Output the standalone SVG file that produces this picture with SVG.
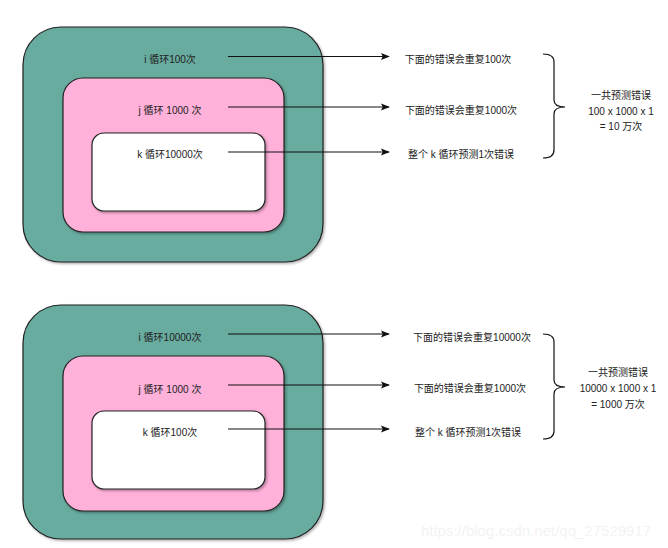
<svg xmlns="http://www.w3.org/2000/svg" width="668" height="548" viewBox="0 0 668 548">
<style>
.t{font-family:"Liberation Sans","Noto Sans CJK SC",sans-serif;font-size:10px;fill:#222;text-anchor:middle;dominant-baseline:central}
.outer{fill:#67AB9F;stroke:#222;stroke-width:1.2}
.mid{fill:#FFB1D9;stroke:#222;stroke-width:1.2}
.inner{fill:#fff;stroke:#222;stroke-width:1.2}
.c{stroke:#111;stroke-width:1.2;fill:none}
.br{stroke:#111;stroke-width:1.2;fill:none}
</style>
<defs>
<marker id="ar" viewBox="0 0 10 10" refX="9" refY="5" markerWidth="9" markerHeight="9" markerUnits="userSpaceOnUse" orient="auto">
<path d="M0,1 L10,5 L0,9 L2,5 Z" fill="#111"/>
</marker>
<filter id="sh" x="-5%" y="-5%" width="115%" height="115%">
<feDropShadow dx="1.5" dy="1.5" stdDeviation="1" flood-color="#000" flood-opacity="0.3"/>
</filter>
</defs>
<rect width="668" height="548" fill="#fff"/>

<g id="top-i"><rect class="outer" x="23" y="27" width="300" height="235" rx="38" filter="url(#sh)"/><text class="t" x="170" y="59">i 循环100次</text></g>
<g id="top-j"><rect class="mid" x="63" y="78" width="221" height="154" rx="20" filter="url(#sh)"/><text class="t" x="170" y="110">j 循环 1000 次</text></g>
<g id="top-k"><rect class="inner" x="92" y="133" width="173" height="78" rx="12" filter="url(#sh)"/><text class="t" x="170" y="154">k 循环10000次</text></g>

<g id="top-labels">
<text class="t" x="458" y="59">下面的错误会重复100次</text>
<text class="t" x="461" y="110">下面的错误会重复1000次</text>
<text class="t" x="461" y="154">整个 k 循环预测1次错误</text>
<text class="t" x="621" y="95">一共预测错误</text>
<text class="t" x="621" y="111">100 x 1000 x 1</text>
<text class="t" x="621" y="126">= 10 万次</text>
</g>

<g id="bot-i"><rect class="outer" x="23" y="305" width="300" height="234" rx="38" filter="url(#sh)"/><text class="t" x="170" y="337">i 循环10000次</text></g>
<g id="bot-j"><rect class="mid" x="63" y="356" width="221" height="155" rx="20" filter="url(#sh)"/><text class="t" x="170" y="389">j 循环 1000 次</text></g>
<g id="bot-k"><rect class="inner" x="92" y="411" width="173" height="78" rx="12" filter="url(#sh)"/><text class="t" x="170" y="432">k 循环100次</text></g>

<g id="bot-labels">
<text class="t" x="472" y="337">下面的错误会重复10000次</text>
<text class="t" x="470" y="388">下面的错误会重复1000次</text>
<text class="t" x="468" y="432">整个 k 循环预测1次错误</text>
<text class="t" x="618" y="372">一共预测错误</text>
<text class="t" x="618" y="388">10000 x 1000 x 1</text>
<text class="t" x="618" y="404">= 1000 万次</text>
</g>

<g id="connectors">
<line class="c" x1="228" y1="56.5" x2="389" y2="56.5" marker-end="url(#ar)"/>
<line class="c" x1="228" y1="107" x2="389" y2="107" marker-end="url(#ar)"/>
<line class="c" x1="228" y1="152" x2="389" y2="152" marker-end="url(#ar)"/>
<line class="c" x1="228" y1="334" x2="389" y2="334" marker-end="url(#ar)"/>
<line class="c" x1="228" y1="385" x2="389" y2="385" marker-end="url(#ar)"/>
<line class="c" x1="228" y1="429" x2="389" y2="429" marker-end="url(#ar)"/>
<path class="br" d="M543,54 Q554,54 554,62 L554,100 Q554,107 565,107 Q554,107 554,114 L554,150 Q554,158 543,158"/>
<path class="br" d="M543,334 Q554,334 554,342 L554,380 Q554,387 565,387 Q554,387 554,394 L554,431 Q554,439 543,439"/>
</g>

<text x="536" y="530" style="font-family:'Liberation Sans',sans-serif;font-size:15px;fill:#f3f3f3;text-anchor:middle;dominant-baseline:central">https://blog.csdn.net/qq_27529917</text>
</svg>
